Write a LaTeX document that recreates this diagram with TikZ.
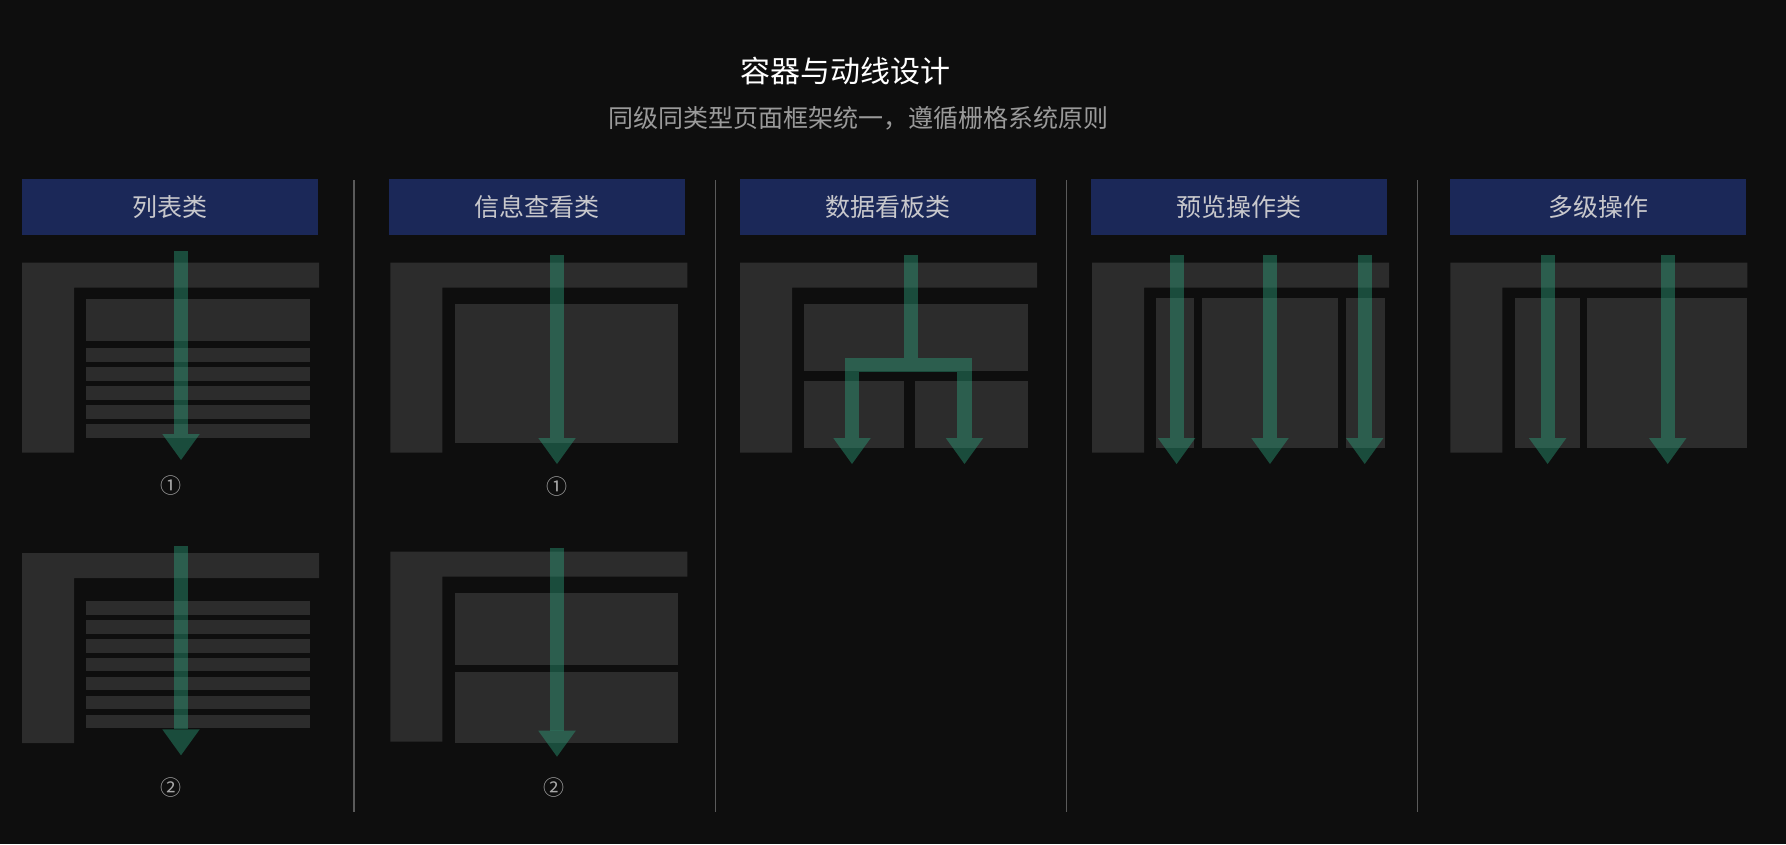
\documentclass[tikz,border=0pt]{standalone}
\usepackage{fontspec}
\setmainfont{Noto Sans CJK SC}
\usetikzlibrary{arrows.meta}
\definecolor{bgc}{HTML}{0E0E0E}
\definecolor{blkc}{HTML}{2C2C2C}
\definecolor{hdrc}{HTML}{1B2858}
\definecolor{hdrtxt}{HTML}{C8C8CC}
\definecolor{subc}{HTML}{9A9A9A}
\definecolor{numc}{HTML}{A8A8A8}
\definecolor{flowc}{HTML}{2CA981}
\definecolor{sepc}{HTML}{5A5A5A}

\begin{document}
\begin{tikzpicture}[x=1pt, y=-1pt,
  hdr/.style={fill=hdrc, text=hdrtxt, minimum width=296pt, minimum height=55.7pt, inner sep=0pt, font=\fontsize{25}{30}\selectfont},
  blk/.style={fill=blkc},
  sep/.style={draw=sepc, line width=1.4pt},
  flow/.style={draw=flowc, opacity=0.4, line width=14.2pt, -{Triangle[length=26pt, width=37.5pt, line width=0pt]}},
  num/.style={text=numc, inner sep=0pt, font=\fontsize{21}{24}\selectfont},
  shell/.pic={\fill[blk] (0,0) -- (297,0) -- (297,25) -- (52,25) -- (52,190) -- (0,190) -- cycle;}]
  \fill[bgc] (0,0) rectangle (1786,844);
  \useasboundingbox (0,0) rectangle (1786,844);

  \node[text=white, font=\fontsize{30}{36}\selectfont] (title) at (845.5,70.7) {容器与动线设计};
  \node[text=subc, font=\fontsize{25}{30}\selectfont] (subtitle) at (858,118.5) {同级同类型页面框架统一，遵循栅格系统原则};

  \node[hdr] (h1) at (169.7,207) {列表类};
  \node[hdr] (h2) at (537,207) {信息查看类};
  \node[hdr] (h3) at (887.5,207) {数据看板类};
  \node[hdr] (h4) at (1239,207) {预览操作类};
  \node[hdr] (h5) at (1598,207) {\raisebox{-2.3pt}{多级操作}};

  \foreach \x in {354,715.5,1066.5,1417.5}
    \draw[sep] (\x,180) -- (\x,811.7);

  \pic at (22,262.7) {shell};
  \fill[blk] (86.3,299) rectangle (310,340.7);
  \foreach \i in {0,...,4}
    \fill[blk] (86.3,348.3+19*\i) rectangle (310,362+19*\i);
  \pic at (22,553) {shell};
  \foreach \i in {0,...,6}
    \fill[blk] (86.3,601+18.95*\i) rectangle (309.5,614.6+18.95*\i);

  \pic at (390.3,262.7) {shell};
  \fill[blk] (455,304) rectangle (678,442.7);
  \pic at (390.3,551.7) {shell};
  \fill[blk] (455,593) rectangle (678,665);
  \fill[blk] (455,671.7) rectangle (678,743);

  \pic at (740,262.7) {shell};
  \fill[blk] (804.3,304) rectangle (1027.7,370.7);
  \fill[blk] (804.3,381) rectangle (904,447.7);
  \fill[blk] (915.3,381) rectangle (1027.7,447.7);

  \pic at (1092,262.7) {shell};
  \fill[blk] (1156.3,298) rectangle (1194.2,447.7);
  \fill[blk] (1202,298) rectangle (1338,447.7);
  \fill[blk] (1345.8,298) rectangle (1385,447.7);

  \pic at (1450.4,262.7) {shell};
  \fill[blk] (1515.2,298) rectangle (1580,447.7);
  \fill[blk] (1586.9,298) rectangle (1746.7,447.7);

  \coordinate (a1) at (181,251);      \coordinate (b1) at (181,460);
  \coordinate (a2) at (181,546.3);    \coordinate (b2) at (181,755.3);
  \coordinate (a3) at (557,255);      \coordinate (b3) at (557,464);
  \coordinate (a4) at (557,547.7);    \coordinate (b4) at (557,756.7);
  \coordinate (fa) at (911,255);      \coordinate (fj) at (911,365.3);
  \coordinate (fk) at (918.1,365.3);
  \coordinate (fl) at (852,464);      \coordinate (fr) at (964.5,464);
  \coordinate (c1) at (1176.6,255);   \coordinate (d1) at (1176.6,464);
  \coordinate (c2) at (1270,255);     \coordinate (d2) at (1270,464);
  \coordinate (c3) at (1364.7,255);   \coordinate (d3) at (1364.7,464);
  \coordinate (e1) at (1547.6,255);   \coordinate (g1) at (1547.6,464);
  \coordinate (e2) at (1667.7,255);   \coordinate (g2) at (1667.7,464);

  \draw[flow] (a1) -- (b1);
  \draw[flow] (a2) -- (b2);
  \draw[flow] (a3) -- (b3);
  \draw[flow] (a4) -- (b4);
  \draw[flow] (fa) -- (fj) -| (fl);
  \draw[flow] (fk) -| (fr);
  \draw[flow] (c1) -- (d1);
  \draw[flow] (c2) -- (d2);
  \draw[flow] (c3) -- (d3);
  \draw[flow] (e1) -- (g1);
  \draw[flow] (e2) -- (g2);

  \node[num] (n1) at (170.7,486) {①};
  \node[num] (n2) at (170.8,787.7) {②};
  \node[num] (n3) at (557.3,486.7) {①};
  \node[num] (n4) at (553.7,787.7) {②};
\end{tikzpicture}
\end{document}
